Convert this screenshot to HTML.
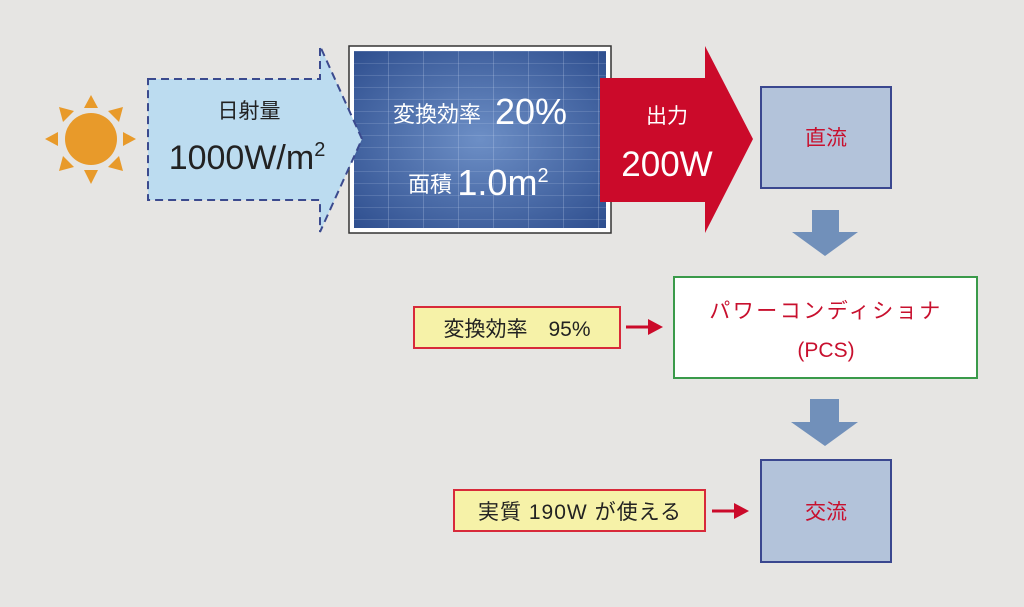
<!DOCTYPE html>
<html><head><meta charset="utf-8"><style>
html,body{margin:0;padding:0;background:#e6e5e3;}
svg{display:block;}
text{font-family:"Liberation Sans","Noto Sans CJK JP",sans-serif;}
</style></head><body>
<svg width="1024" height="607" viewBox="0 0 1024 607" xmlns="http://www.w3.org/2000/svg">
<defs>
<radialGradient id="pg" cx="0.5" cy="0.5" r="0.7">
<stop offset="0" stop-color="#6d8fc6"/><stop offset="1" stop-color="#2f4f8f"/>
</radialGradient>
<pattern id="grid" x="353" y="51" width="35" height="12" patternUnits="userSpaceOnUse">
<line x1="0" y1="0" x2="0" y2="12" stroke="#c8d6f0" stroke-opacity="0.5" stroke-width="1"/>
<line x1="0" y1="0" x2="35" y2="0" stroke="#c8d6f0" stroke-opacity="0.35" stroke-width="1"/>
</pattern>
</defs>
<rect width="1024" height="607" fill="#e6e5e3"/>
<!-- sun -->
<g fill="#e89a2a">
<circle cx="91" cy="139" r="26"/>
<polygon points="91,95 84,108 98,108"/>
<polygon points="91,184 84,170 98,170"/>
<polygon points="45,139 58,132 58,146"/>
<polygon points="136,139 123,132 123,146"/>
<polygon points="59,107 74,111 63,122"/>
<polygon points="123,107 108,111 119,122"/>
<polygon points="59,171 74,167 63,156"/>
<polygon points="123,171 108,167 119,156"/>
</g>
<!-- panel -->
<rect x="349" y="46" width="262" height="187" fill="#fff" stroke="#333" stroke-width="1.5"/>
<rect x="354" y="51" width="252" height="177" fill="url(#pg)"/>
<rect x="354" y="51" width="252" height="177" fill="url(#grid)"/>
<!-- light blue arrow -->
<polygon points="148,79 320,79 320,46 362,139 320,232 320,200 148,200" fill="#bcdcf0" stroke="#3b4a8e" stroke-width="2" stroke-dasharray="8,5"/>
<text x="249" y="118" font-size="21" text-anchor="middle" fill="#222">日射量</text>
<text x="247" y="169" font-size="34" text-anchor="middle" fill="#222">1000W/m<tspan font-size="20" dy="-13">2</tspan></text>
<text x="437" y="122" font-size="22" text-anchor="middle" fill="#fff">変換効率</text>
<text x="531" y="124" font-size="36" text-anchor="middle" fill="#fff">20%</text>
<text x="430" y="192" font-size="22" text-anchor="middle" fill="#fff">面積</text>
<text x="503" y="195" font-size="36" text-anchor="middle" fill="#fff">1.0m<tspan font-size="20" dy="-13">2</tspan></text>
<!-- red arrow -->
<polygon points="600,78 705,78 705,46 753,139 705,233 705,202 600,202" fill="#cb0a2a"/>
<text x="667" y="123" font-size="21" text-anchor="middle" fill="#fff">出力</text>
<text x="667" y="176" font-size="35" text-anchor="middle" fill="#fff">200W</text>
<!-- 直流 -->
<rect x="761" y="87" width="130" height="101" fill="#b3c3da" stroke="#3a478f" stroke-width="2"/>
<text x="826" y="145" font-size="21" text-anchor="middle" fill="#c8102e">直流</text>
<polygon points="812,210 839,210 839,232 858,232 825,256 792,232 812,232" fill="#7190ba"/>
<!-- PCS -->
<rect x="674" y="277" width="303" height="101" fill="#fff" stroke="#3a9a4a" stroke-width="2"/>
<text x="826" y="318" font-size="21" letter-spacing="2.5" text-anchor="middle" fill="#c8102e">パワーコンディショナ</text>
<text x="826" y="357" font-size="21" text-anchor="middle" fill="#c8102e">(PCS)</text>
<polygon points="810,399 839,399 839,422 858,422 825,446 791,422 810,422" fill="#7190ba"/>
<!-- 交流 -->
<rect x="761" y="460" width="130" height="102" fill="#b3c3da" stroke="#3a478f" stroke-width="2"/>
<text x="826" y="519" font-size="21" text-anchor="middle" fill="#c8102e">交流</text>
<!-- labels -->
<rect x="414" y="307" width="206" height="41" fill="#f6f2a8" stroke="#d82a3a" stroke-width="2"/>
<text x="517" y="336" font-size="21" text-anchor="middle" fill="#222">変換効率　95%</text>
<line x1="626" y1="327" x2="650" y2="327" stroke="#cb0a2a" stroke-width="3"/>
<polygon points="648,319 663,327 648,335" fill="#cb0a2a"/>
<rect x="454" y="490" width="251" height="41" fill="#f6f2a8" stroke="#d82a3a" stroke-width="2"/>
<text x="580" y="519" font-size="21" letter-spacing="1" text-anchor="middle" fill="#222">実質 190W が使える</text>
<line x1="712" y1="511" x2="736" y2="511" stroke="#cb0a2a" stroke-width="3"/>
<polygon points="734,503 749,511 734,519" fill="#cb0a2a"/>
</svg>
</body></html>
